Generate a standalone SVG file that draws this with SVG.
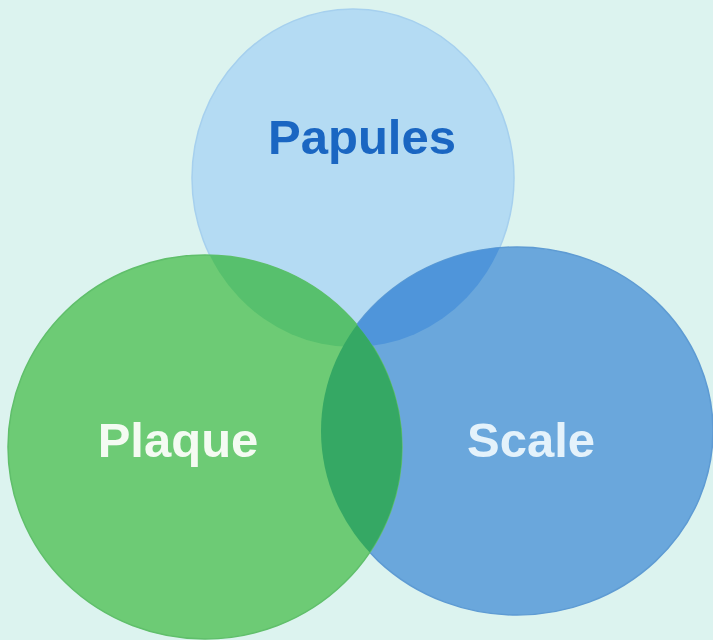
<svg xmlns="http://www.w3.org/2000/svg" width="713" height="640" viewBox="0 0 713 640">
  <style>
    .lbl { font-family: "Liberation Sans", Arial, sans-serif; font-weight: bold; font-size: 49px; text-anchor: middle; }
  </style>
  <defs>
    <clipPath id="cTop"><ellipse cx="353" cy="178" rx="161" ry="169"/></clipPath>
    <clipPath id="cGreen"><ellipse cx="205" cy="447" rx="197" ry="192"/></clipPath>
    <clipPath id="cBlue"><ellipse cx="517" cy="431" rx="196" ry="184"/></clipPath>
  </defs>
  <rect width="713" height="640" fill="#dcf3ef"/>
  <g id="papules">
    <ellipse cx="353" cy="178" rx="161" ry="169" fill="#b4dbf3" stroke="#a6d0ee" stroke-width="1.5"/>
  </g>
  <g id="scale">
    <ellipse cx="517" cy="431" rx="196" ry="184" fill="#6aa7dc" stroke="#5e9bd3" stroke-width="1.5"/>
  </g>
  <g id="plaque">
    <ellipse cx="205" cy="447" rx="197" ry="192" fill="#6dcb75" stroke="#60bf6b" stroke-width="1.5"/>
  </g>
  <g id="overlaps">
    <g clip-path="url(#cTop)">
      <ellipse cx="517" cy="431" rx="196" ry="184" fill="#4f95da"/>
      <ellipse cx="205" cy="447" rx="197" ry="192" fill="#57c06d"/>
    </g>
    <g clip-path="url(#cBlue)">
      <ellipse cx="205" cy="447" rx="197" ry="192" fill="#35a864"/>
    </g>
  </g>
  <g id="labels">
    <text class="lbl" x="362" y="154" fill="#1a66c2">Papules</text>
    <text class="lbl" x="178" y="457" fill="#f4fbf2">Plaque</text>
    <text class="lbl" x="531" y="457" fill="#e4f2fb">Scale</text>
  </g>
</svg>
